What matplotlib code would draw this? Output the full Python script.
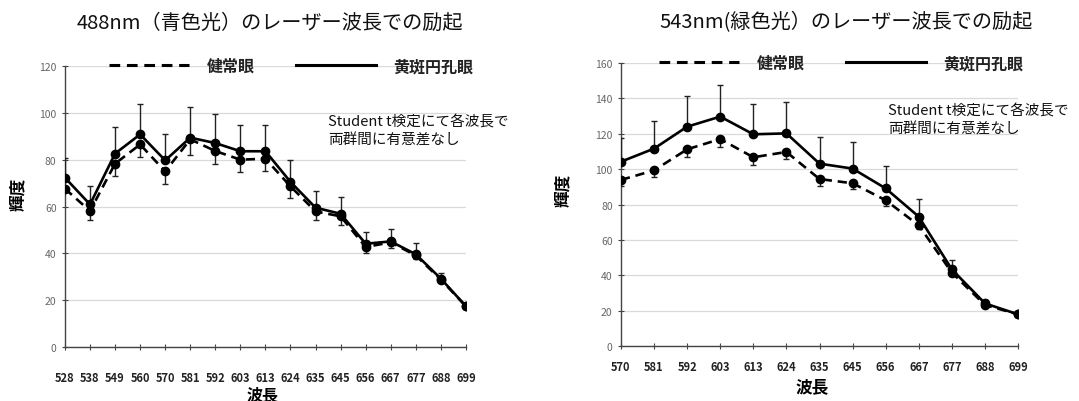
import matplotlib
matplotlib.use("Agg")
import matplotlib.pyplot as plt
from matplotlib.lines import Line2D
import numpy as np

plt.rcParams['font.family'] = ['Noto Sans CJK JP', 'DejaVu Sans']

# ---- data: left panel (488 nm excitation) ----
wl_left = ["528", "538", "549", "560", "570", "581", "592", "603", "613",
           "624", "635", "645", "656", "667", "677", "688", "699"]
mh_left = [72.3, 60.9, 82.6, 90.8, 79.7, 89.4, 87.1, 83.6, 83.6,
           70.5, 59.5, 56.9, 44.1, 45.1, 39.6, 29.2, 17.4]
mh_left_err = [8.4, 7.9, 11.2, 13.0, 11.4, 13.2, 12.4, 11.2, 11.2,
               9.4, 7.3, 7.2, 5.0, 5.5, 4.7, 2.4, 0.0]
nm_left = [67.6, 58.1, 78.3, 86.5, 75.0, 88.7, 83.7, 80.0, 80.4,
           68.6, 57.9, 55.8, 42.7, 44.7, 39.1, 28.8, 17.4]
nm_left_err = [0.0, 3.7, 5.3, 5.5, 5.2, 6.6, 5.7, 5.3, 5.2,
               4.8, 3.5, 3.6, 2.7, 2.3, 1.7, 1.0, 0.0]

# ---- data: right panel (543 nm excitation) ----
wl_right = ["570", "581", "592", "603", "613", "624", "635", "645", "656",
            "667", "677", "688", "699"]
mh_right = [104.2, 111.6, 124.0, 129.7, 119.7, 120.2, 103.1, 100.3, 89.1,
            73.1, 43.3, 24.1, 17.9]
mh_right_err = [13.6, 15.6, 17.5, 17.9, 17.3, 17.6, 15.1, 14.8, 12.9,
                10.0, 5.5, 1.9, 0.0]
nm_right = [93.9, 99.3, 111.2, 117.0, 106.7, 109.7, 94.4, 92.0, 82.4,
            68.2, 41.5, 23.2, 17.9]
nm_right_err = [3.4, 3.9, 4.2, 4.7, 4.2, 4.2, 3.7, 3.4, 3.2,
                2.2, 1.5, 1.2, 0.0]

titles = ["488nm（青色光）のレーザー波長での励起", "543nm(緑色光）のレーザー波長での励起"]
label_normal = "健常眼"
label_mh = "黄斑円孔眼"
note = "Student t検定にて各波長で\n両群間に有意差なし"
ylabel = "輝度"
xlabel = "波長"

fig = plt.figure(figsize=(10.79, 4.02), dpi=100)

panels = [
    dict(rect=[0.0602, 0.1343, 0.3716, 0.699], wl=wl_left, mh=mh_left, mhe=mh_left_err,
         nm=nm_left, nme=nm_left_err, ymax=120, pad=15, title_x=270 / 1079,
         legend_x=0.565, note_xy=(0.656, 0.772), ylab=(-0.117, 0.545), xlab=(0.494, -0.170),
         xlab_size=11.5),
    dict(rect=[0.5755, 0.1368, 0.368, 0.704], wl=wl_right, mh=mh_right, mhe=mh_right_err,
         nm=nm_right, nme=nm_right_err, ymax=160, pad=8, title_x=846 / 1079,
         legend_x=0.555, note_xy=(0.672, 0.80), ylab=(-0.146, 0.555), xlab=(0.481, -0.141),
         xlab_size=12),
]

dash = (0, (3.5, 2.2))

for p, title in zip(panels, titles):
    ax = fig.add_axes(p["rect"])
    x = np.arange(len(p["wl"]))
    # normal eyes: dashed, lower error bars
    ax.errorbar(x, p["nm"], yerr=[p["nme"], np.zeros(len(x))], color="black",
                ls=dash, lw=1.9, marker="o", ms=6, ecolor="#222222",
                elinewidth=1.0, capsize=2.2, capthick=1.0, label=label_normal, zorder=3)
    # macular hole eyes: solid, upper error bars
    ax.errorbar(x, p["mh"], yerr=[np.zeros(len(x)), p["mhe"]], color="black",
                ls="-", lw=1.9, marker="o", ms=6, ecolor="#222222",
                elinewidth=1.0, capsize=2.2, capthick=1.0, label=label_mh, zorder=4)
    ax.set_xlim(0, len(x) - 1)
    ax.set_ylim(0, p["ymax"])
    ax.set_yticks(np.arange(0, p["ymax"] + 1, 20))
    ax.set_xticks(x)
    ax.set_xticklabels(p["wl"], fontsize=8, fontweight="bold", color="#222222")
    ax.tick_params(axis="x", direction="inout", length=4, width=0.8, pad=p["pad"], color="#444444")
    ax.tick_params(axis="y", direction="inout", length=4, width=0.8, labelsize=7.5,
                   labelcolor="#666666", color="#444444", pad=4)
    ax.grid(axis="y", color="#d9d9d9", lw=0.9)
    ax.set_axisbelow(True)
    for s in ["top", "right"]:
        ax.spines[s].set_visible(False)
    for s in ["left", "bottom"]:
        ax.spines[s].set_color("#444444")
        ax.spines[s].set_linewidth(1.0)
    ax.set_ylabel(ylabel, fontsize=12, fontweight="bold", rotation=90, va="center", ha="center")
    ax.yaxis.set_label_coords(*p["ylab"])
    ax.set_xlabel(xlabel, fontsize=p["xlab_size"], fontweight="bold", va="center", ha="center")
    ax.xaxis.set_label_coords(*p["xlab"])

    # legend
    handles = [Line2D([], [], color="black", ls=dash, lw=2.2),
               Line2D([], [], color="black", ls="-", lw=2.2)]
    leg = ax.legend(handles, [label_normal, label_mh], loc="center",
                    bbox_to_anchor=(p["legend_x"], 1.0), ncol=2, frameon=False,
                    handlelength=5.0, handletextpad=1.1, columnspacing=2.6,
                    prop=dict(size=11.5, weight="bold"))
    for t in leg.get_texts():
        t.set_color("#222222")

    ax.text(p["note_xy"][0], p["note_xy"][1], note, transform=ax.transAxes,
            fontsize=10.5, va="center", ha="left", linespacing=1.35, color="#111111")

    fig.text(p["title_x"], 1 - 23 / 402, title, ha="center", va="center",
             fontsize=14.5, color="#111111")

fig.savefig("out.png", dpi=100, facecolor="white")
